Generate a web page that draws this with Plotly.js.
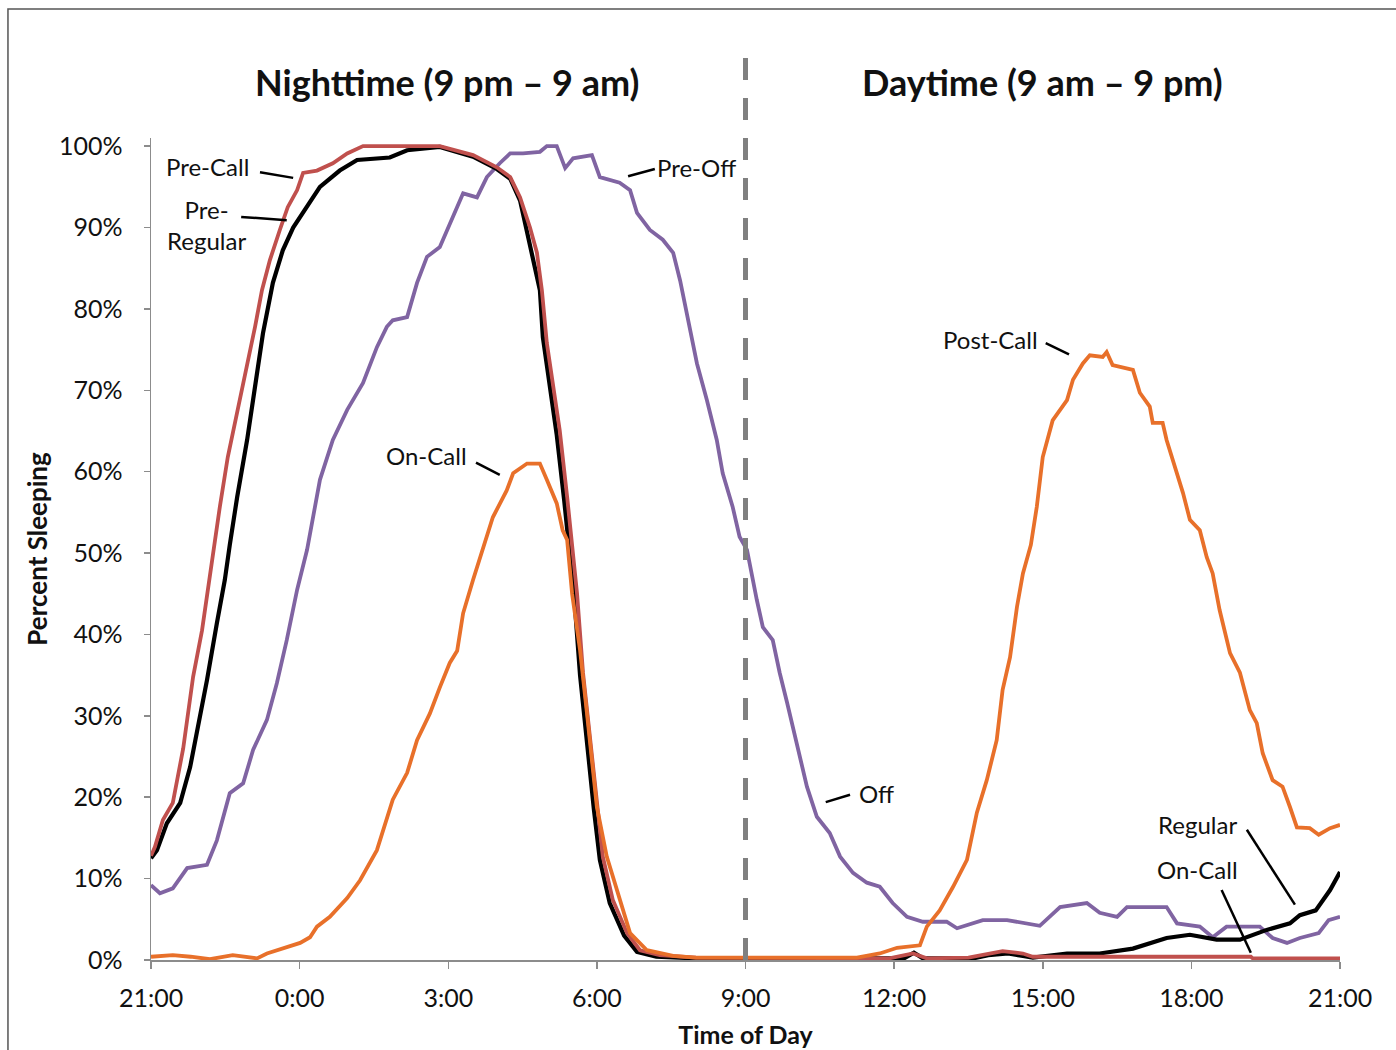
<!DOCTYPE html>
<html>
<head>
<meta charset="utf-8">
<script src="https://cdn.plot.ly/plotly-3.0.1.min.js"></script>
<style>
  html, body { margin: 0; padding: 0; background: #ffffff; }
  #chart { width: 1396px; height: 1050px; }
</style>
</head>
<body>
<div id="chart"></div>
<script>
// x = hours elapsed since 21:00 (0 = 21:00, 12 = 9:00, 24 = 21:00 next day); y = percent sleeping
var tickHours = [0, 3, 6, 9, 12, 15, 18, 21, 24];
var tickLabels = ["21:00", "0:00", "3:00", "6:00", "9:00", "12:00", "15:00", "18:00", "21:00"];
var yTicks = [0, 10, 20, 30, 40, 50, 60, 70, 80, 90, 100];
var yTickLabels = ["0%", "10%", "20%", "30%", "40%", "50%", "60%", "70%", "80%", "90%", "100%"];

// Off group (Pre-Off at night, Off in daytime) - purple
var offX = [0, 0.18, 0.44, 0.73, 1.13, 1.33, 1.59, 1.86, 2.06, 2.34, 2.54, 2.74, 2.95, 3.15, 3.41, 3.67, 3.96, 4.28, 4.56, 4.76, 4.88, 5.17, 5.37, 5.57, 5.83, 6.09, 6.30, 6.58, 6.78, 7.04, 7.25, 7.51, 7.85, 7.99, 8.19, 8.36, 8.52, 8.90, 9.06, 9.46, 9.67, 9.81, 10.07, 10.33, 10.54, 10.68, 10.88, 11.02, 11.22, 11.42, 11.54, 11.74, 11.88, 12.03, 12.23, 12.35, 12.55, 12.69, 12.84, 13.04, 13.24, 13.44, 13.70, 13.91, 14.17, 14.45, 14.71, 14.97, 15.26, 15.58, 16.06, 16.27, 16.79, 17.28, 17.94, 18.35, 18.89, 19.15, 19.50, 19.70, 20.50, 20.71, 21.17, 21.43, 21.71, 22.38, 22.64, 22.93, 23.19, 23.57, 23.77, 24];
var offY = [9.2, 8.2, 8.8, 11.3, 11.7, 14.7, 20.5, 21.7, 25.8, 29.5, 34.0, 39.3, 45.5, 50.4, 59.0, 63.9, 67.6, 70.9, 75.3, 77.8, 78.6, 79.0, 83.2, 86.4, 87.6, 91.3, 94.2, 93.7, 96.2, 97.9, 99.1, 99.1, 99.3, 100, 100, 97.3, 98.5, 98.9, 96.2, 95.5, 94.6, 91.8, 89.7, 88.5, 86.9, 83.5, 77.4, 73.3, 68.8, 63.9, 59.8, 55.7, 52.0, 50.4, 44.2, 40.9, 39.3, 35.3, 31.6, 26.2, 21.3, 17.6, 15.6, 12.7, 10.7, 9.5, 9.0, 7.0, 5.3, 4.7, 4.7, 3.9, 4.9, 4.9, 4.2, 6.5, 7.0, 5.8, 5.3, 6.5, 6.5, 4.5, 4.1, 2.8, 4.1, 4.1, 2.7, 2.1, 2.7, 3.3, 4.9, 5.3];

// Regular group (Pre-Regular at night, Regular in daytime) - black
var regX = [0, 0.12, 0.32, 0.59, 0.79, 0.99, 1.13, 1.33, 1.49, 1.59, 1.74, 1.94, 2.10, 2.26, 2.46, 2.66, 2.87, 3.15, 3.41, 3.81, 4.16, 4.82, 5.17, 5.83, 6.50, 6.98, 7.25, 7.45, 7.71, 7.85, 7.91, 8.05, 8.19, 8.34, 8.44, 8.55, 8.66, 8.80, 8.94, 9.06, 9.26, 9.55, 9.81, 10.20, 11.0, 15.20, 15.40, 15.58, 16.60, 16.90, 17.30, 17.60, 17.80, 18.49, 19.15, 19.82, 20.50, 20.97, 21.51, 21.98, 22.52, 22.99, 23.19, 23.51, 23.80, 24];
var regY = [12.5, 13.5, 16.8, 19.3, 23.7, 29.9, 34.4, 41.4, 46.7, 51.0, 56.9, 63.9, 70.9, 77.0, 83.2, 87.2, 90.0, 92.5, 95.0, 97.0, 98.3, 98.6, 99.5, 99.9, 98.7, 97.2, 96.0, 93.3, 86.4, 82.3, 76.5, 70.5, 64.5, 56.5, 50.0, 44.0, 35.0, 26.5, 18.5, 12.3, 7.0, 3.0, 1.0, 0.4, 0.2, 0.2, 0.9, 0.2, 0.2, 0.6, 0.8, 0.5, 0.3, 0.8, 0.8, 1.4, 2.7, 3.1, 2.5, 2.5, 3.7, 4.5, 5.5, 6.1, 8.6, 10.8];

// Call group (Pre-Call at night, On-Call in daytime) - red
var callX = [0, 0.08, 0.24, 0.44, 0.65, 0.85, 1.03, 1.19, 1.29, 1.39, 1.55, 1.74, 1.94, 2.10, 2.24, 2.40, 2.60, 2.76, 2.95, 3.07, 3.35, 3.67, 3.96, 4.28, 5.83, 6.50, 6.98, 7.25, 7.45, 7.65, 7.79, 7.89, 7.99, 8.11, 8.25, 8.40, 8.50, 8.60, 8.72, 8.86, 9.00, 9.12, 9.32, 9.61, 9.87, 10.27, 11.0, 14.90, 15.38, 15.66, 16.50, 17.19, 17.60, 17.80, 22.20, 22.24, 24];
var callY = [12.8, 13.9, 17.2, 19.3, 26.0, 34.8, 40.5, 47.5, 51.6, 55.7, 61.8, 67.2, 72.9, 77.8, 82.3, 86.0, 89.7, 92.5, 94.6, 96.7, 97.0, 97.9, 99.1, 100, 100, 98.9, 97.4, 96.2, 93.7, 90.0, 86.9, 82.3, 75.8, 70.9, 65.1, 56.9, 50.4, 45.0, 35.3, 27.0, 18.8, 12.7, 7.4, 3.3, 1.2, 0.6, 0.3, 0.2, 0.8, 0.2, 0.3, 1.1, 0.8, 0.4, 0.4, 0.2, 0.2];

// On-Call night / Post-Call day - orange
var postX = [0, 0.44, 0.80, 1.19, 1.65, 2.14, 2.34, 2.74, 3.01, 3.21, 3.35, 3.61, 3.96, 4.22, 4.42, 4.56, 4.88, 5.17, 5.37, 5.63, 5.83, 6.03, 6.18, 6.30, 6.50, 6.70, 6.90, 7.18, 7.31, 7.59, 7.85, 7.99, 8.19, 8.31, 8.40, 8.50, 8.66, 8.80, 9.00, 9.20, 9.46, 9.67, 10.01, 10.54, 11.0, 14.25, 14.71, 15.06, 15.52, 15.66, 15.92, 16.19, 16.47, 16.67, 16.87, 17.07, 17.19, 17.34, 17.48, 17.60, 17.76, 17.88, 18.00, 18.20, 18.49, 18.61, 18.81, 18.95, 19.21, 19.29, 19.41, 19.70, 19.82, 19.96, 20.16, 20.22, 20.42, 20.50, 20.71, 20.83, 20.97, 21.17, 21.31, 21.43, 21.57, 21.78, 21.98, 22.18, 22.32, 22.44, 22.64, 22.84, 22.99, 23.13, 23.39, 23.57, 23.80, 24];
var postY = [0.4, 0.6, 0.4, 0.1, 0.6, 0.2, 0.8, 1.6, 2.1, 2.8, 4.1, 5.3, 7.6, 9.8, 11.9, 13.5, 19.7, 23.0, 27.0, 30.3, 33.5, 36.5, 38.0, 42.6, 46.7, 50.5, 54.4, 57.7, 59.8, 61.0, 61.0, 59.0, 56.1, 52.8, 51.6, 45.0, 38.1, 30.3, 18.8, 12.7, 7.7, 3.3, 1.2, 0.5, 0.3, 0.3, 0.8, 1.5, 1.8, 4.1, 6.1, 9.0, 12.3, 18.1, 22.1, 27.0, 33.2, 37.2, 43.4, 47.5, 51.0, 55.7, 61.8, 66.3, 68.8, 71.3, 73.3, 74.3, 74.1, 74.7, 73.1, 72.7, 72.5, 69.7, 68.0, 66.0, 66.0, 63.9, 59.8, 57.4, 54.1, 52.8, 49.5, 47.5, 43.0, 37.7, 35.3, 30.7, 29.1, 25.4, 22.1, 21.3, 18.8, 16.3, 16.2, 15.4, 16.2, 16.6];

var COL_OFF = "#8064A2", COL_REG = "#000000", COL_CALL = "#C0504D", COL_POST = "#E8702A";
var FONT = "Lato, 'Open Sans', sans-serif";

function trace(x, y, color, width, name) {
  return { type: "scatter", mode: "lines", x: x, y: y, name: name,
           line: { color: color, width: width }, hoverinfo: "skip" };
}

var data = [
  trace(offX, offY, COL_OFF, 3.8, "Off"),
  trace(regX, regY, COL_REG, 4.2, "Regular"),
  trace(callX, callY, COL_CALL, 3.8, "Call"),
  trace(postX, postY, COL_POST, 3.8, "Post-Call")
];

function leader(x0, y0, x1, y1) {
  return { type: "line", xref: "x", yref: "y", x0: x0, y0: y0, x1: x1, y1: y1,
           line: { color: "#000000", width: 2.5 } };
}
function label(text, x, y) {
  return { text: text, x: x, y: y, xref: "x", yref: "y", showarrow: false,
           xanchor: "center", yanchor: "middle",
           font: { family: FONT, size: 24, color: "#111111" }, align: "center" };
}

var layout = {
  width: 1396, height: 1050,
  margin: { l: 151, r: 56, t: 138, b: 90 },
  paper_bgcolor: "#ffffff", plot_bgcolor: "#ffffff",
  showlegend: false,
  font: { family: FONT, color: "#111111" },
  xaxis: {
    range: [0, 24], tickmode: "array", tickvals: tickHours, ticktext: tickLabels,
    showgrid: false, zeroline: false, showline: true, linecolor: "#8c8c8c", linewidth: 1.5,
    ticks: "outside", ticklen: 7, tickwidth: 1.5, tickcolor: "#8c8c8c",
    tickfont: { family: FONT, size: 25, color: "#111111" },
    ticklabelstandoff: 8,
    title: { text: "<b>Time of Day</b>", font: { family: FONT, size: 25, color: "#111111" }, standoff: 16 },
    fixedrange: true
  },
  yaxis: {
    range: [0, 101], tickmode: "array", tickvals: yTicks, ticktext: yTickLabels,
    showgrid: false, zeroline: false, showline: true, linecolor: "#8c8c8c", linewidth: 1.5,
    ticks: "outside", ticklen: 6, tickwidth: 1.5, tickcolor: "#8c8c8c",
    tickfont: { family: FONT, size: 25, color: "#111111" },
    ticklabelstandoff: 16,
    title: { text: "<b>Percent Sleeping</b>", font: { family: FONT, size: 26, color: "#111111" }, standoff: 4 },
    fixedrange: true
  },
  shapes: [
    { type: "rect", xref: "paper", yref: "paper", x0: -0.1203, x1: 1.2, y0: -0.3, y1: 1.157,
      line: { color: "#555555", width: 1.5 }, fillcolor: "rgba(0,0,0,0)", layer: "below" },
    { type: "line", xref: "x", yref: "paper", x0: 12, x1: 12, y0: 0, y1: 1.115,
      line: { color: "#808080", width: 5, dash: "22px,18px" } },
    leader(2.20, 96.8, 2.87, 96.1),
    leader(1.82, 91.3, 2.74, 90.9),
    leader(9.63, 96.3, 10.17, 97.2),
    leader(6.56, 61.1, 7.04, 59.6),
    leader(13.62, 19.4, 14.11, 20.3),
    leader(18.06, 75.8, 18.53, 74.4),
    leader(22.12, 16.0, 23.09, 6.8),
    leader(21.61, 8.6, 22.20, 0.9)
  ],
  annotations: [
    { text: "<b>Nighttime (9 pm \u2013 9 am)</b>", x: 5.97, y: 1.068, xref: "x", yref: "paper",
      xanchor: "center", yanchor: "middle",
      showarrow: false, font: { family: FONT, size: 36, color: "#111111" } },
    { text: "<b>Daytime (9 am \u2013 9 pm)</b>", x: 18.0, y: 1.068, xref: "x", yref: "paper",
      xanchor: "center", yanchor: "middle",
      showarrow: false, font: { family: FONT, size: 36, color: "#111111" } },
    label("Pre-Call", 1.15, 97.5),
    label("Pre-<br>Regular", 1.13, 90.3),
    label("Pre-Off", 11.02, 97.4),
    label("On-Call", 5.57, 62.0),
    label("Off", 14.65, 20.5),
    label("Post-Call", 16.95, 76.2),
    label("Regular", 21.13, 16.6),
    label("On-Call", 21.13, 11.1)
  ]
};

Plotly.newPlot("chart", data, layout, { staticPlot: true, displayModeBar: false });
</script>
</body>
</html>
